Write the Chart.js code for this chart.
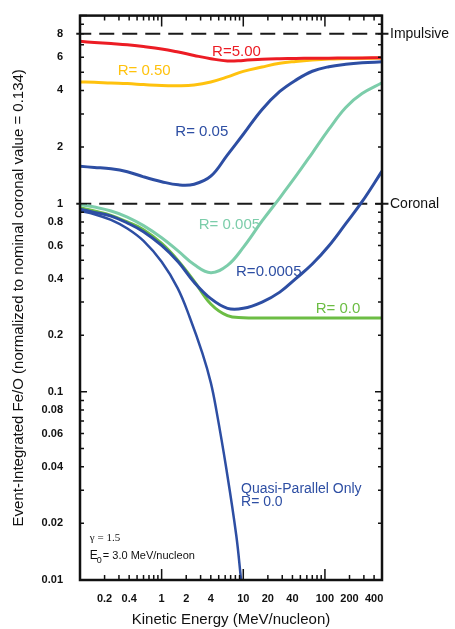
<!DOCTYPE html>
<html>
<head>
<meta charset="utf-8">
<script src="https://cdn.jsdelivr.net/npm/chart.js@4.4.1/dist/chart.umd.min.js"></script>
<style>
  html, body { margin: 0; padding: 0; background: #fff; }
  #wrap { width: 455px; height: 629px; position: relative; }
</style>
</head>
<body>
<div id="wrap"><canvas id="feoChart"></canvas></div>
<script>
// kinetic energy grid (MeV/nucleon) used by the model curves
const energy = [0.1, 0.15, 0.24, 0.38, 0.6, 1, 1.6, 2.5, 4, 6.4, 10, 17, 28, 44, 70, 112, 180, 285, 500];

// event-integrated Fe/O, normalized to coronal value 0.134
const feoR500 = [7.3, 7.2, 7.1, 7.0, 6.85, 6.65, 6.4, 6.14, 5.9, 5.74, 5.78, 5.86, 5.9, 5.92, 5.93, 5.94, 5.95, 5.96, 5.97];
const feoR050 = [4.44, 4.42, 4.38, 4.35, 4.3, 4.25, 4.24, 4.28, 4.44, 4.72, 5.05, 5.33, 5.58, 5.71, 5.81, 5.88, 5.91, 5.93, 5.95];
const feoR005 = [1.58, 1.56, 1.535, 1.48, 1.39, 1.31, 1.26, 1.27, 1.4, 1.82, 2.34, 3.17, 3.95, 4.54, 5.06, 5.35, 5.51, 5.61, 5.68];
const feoR0005 = [0.99, 0.96, 0.915, 0.85, 0.765, 0.66, 0.56, 0.475, 0.43, 0.47, 0.586, 0.81, 1.075, 1.4, 1.86, 2.49, 3.25, 3.85, 4.39];
const feoR00005 = [0.935, 0.9, 0.86, 0.79, 0.71, 0.6, 0.49, 0.383, 0.313, 0.278, 0.278, 0.3, 0.339, 0.4, 0.478, 0.598, 0.784, 1.025, 1.49];
const feoR0 = [0.952, 0.915, 0.868, 0.8, 0.728, 0.615, 0.497, 0.388, 0.293, 0.254, 0.248, 0.247, 0.247, 0.247, 0.247, 0.247, 0.247, 0.247, 0.247];

// quasi-parallel only, R = 0.0
const quasiEnergy = [0.1, 0.15, 0.24, 0.38, 0.6, 1, 1.57, 2.2, 3.16, 4, 4.7, 6.2, 8.2, 9.4];
const quasiFeO = [0.915, 0.88, 0.82, 0.738, 0.634, 0.491, 0.356, 0.25, 0.16, 0.112, 0.079, 0.039, 0.0173, 0.01];

// reference levels
const impulsiveLevel = 8;
const coronalLevel = 1;

// tick labels
const xTickLabels = [0.2, 0.4, 1, 2, 4, 10, 20, 40, 100, 200, 400];
const yTickLabels = [0.01, 0.02, 0.04, 0.06, 0.08, 0.1, 0.2, 0.4, 0.6, 0.8, 1, 2, 4, 6, 8];

const RED = "#ec1c24";
const GOLD = "#ffc20e";
const BLUE = "#2d4ea3";
const TEAL = "#7ccdaa";
const GREEN = "#6cbd44";
const FONT = "'Liberation Sans', Arial, sans-serif";

const pairs = (xs, ys) => xs.map((x, i) => ({ x: x, y: ys[i] }));

const curve = (label, xs, ys, color, width) => ({
  label: label,
  data: pairs(xs, ys),
  borderColor: color,
  borderWidth: width || 3,
  pointRadius: 0,
  showLine: true,
  tension: 0.4,
});

const level = (label, v) => ({
  label: label,
  data: [{ x: 0.09, y: v }, { x: 600, y: v }],
  borderColor: "#1a1a1a",
  borderWidth: 2,
  borderDash: [15, 8],
  pointRadius: 0,
  showLine: true,
  tension: 0,
  clip: { left: 6, right: 9, top: 0, bottom: 0 },
});

// text placed in data coordinates (energy, Fe/O)
const notes = [
  { text: "R=5.00", e: 4.15, v: 6.39, color: RED, size: 15 },
  { text: "R= 0.50", e: 0.29, v: 5.11, color: GOLD, size: 15 },
  { text: "R= 0.05", e: 1.47, v: 2.42, color: BLUE, size: 15 },
  { text: "R= 0.005", e: 2.85, v: 0.768, color: TEAL, size: 15 },
  { text: "R=0.0005", e: 8.15, v: 0.436, color: BLUE, size: 15 },
  { text: "R= 0.0", e: 77, v: 0.275, color: GREEN, size: 15 },
  { text: "Quasi-Parallel Only", e: 9.38, v: 0.0305, color: BLUE, size: 14 },
  { text: "R= 0.0", e: 9.38, v: 0.0259, color: BLUE, size: 14 },
];

const isDecade = (v) => Math.abs(Math.log10(v) - Math.round(Math.log10(v))) < 1e-6;

const minorValues = (lo, hi) => {
  const out = [];
  for (let d = Math.floor(Math.log10(lo)); d <= Math.ceil(Math.log10(hi)); d++) {
    for (let m = 1; m < 10; m++) {
      const v = m * Math.pow(10, d);
      if (v >= lo * 0.999 && v <= hi * 1.001) out.push(v);
    }
  }
  return out;
};

const framePlugin = {
  id: "frame",
  afterDatasetsDraw(chart) {
    const { ctx, chartArea: a, scales } = chart;
    const x = scales.x;
    const y = scales.y;
    ctx.save();
    ctx.strokeStyle = "#111";
    ctx.lineWidth = 1.5;
    ctx.beginPath();
    minorValues(0.1, 500).forEach((v) => {
      const px = x.getPixelForValue(v);
      const len = isDecade(v) ? 11 : 5;
      ctx.moveTo(px, a.bottom);
      ctx.lineTo(px, a.bottom - len);
      ctx.moveTo(px, a.top);
      ctx.lineTo(px, a.top + len);
    });
    minorValues(0.01, 10).forEach((v) => {
      const py = y.getPixelForValue(v);
      const len = isDecade(v) ? 7 : 4;
      ctx.moveTo(a.left, py);
      ctx.lineTo(a.left + len, py);
      ctx.moveTo(a.right, py);
      ctx.lineTo(a.right - len, py);
    });
    ctx.stroke();
    ctx.lineWidth = 2.5;
    ctx.strokeRect(a.left, a.top, a.right - a.left, a.bottom - a.top);

    ctx.textBaseline = "middle";
    ctx.textAlign = "left";
    notes.forEach((n) => {
      ctx.fillStyle = n.color;
      ctx.font = n.size + "px " + FONT;
      ctx.fillText(n.text, x.getPixelForValue(n.e), y.getPixelForValue(n.v));
    });

    ctx.fillStyle = "#111";
    ctx.font = "14px " + FONT;
    ctx.fillText("Impulsive", a.right + 8, y.getPixelForValue(impulsiveLevel));
    ctx.fillText("Coronal", a.right + 8, y.getPixelForValue(coronalLevel));

    // model parameters, lower left
    const gx = x.getPixelForValue(0.132);
    ctx.font = "11px 'Liberation Serif', 'Times New Roman', serif";
    ctx.fillText("\u03b3 = 1.5", gx, y.getPixelForValue(0.0168));
    const ey = y.getPixelForValue(0.0134);
    ctx.font = "12px " + FONT;
    ctx.fillText("E", gx, ey);
    const ew = ctx.measureText("E").width;
    ctx.font = "9px " + FONT;
    ctx.fillText("0", gx + ew - 1, ey + 4);
    ctx.font = "11px " + FONT;
    ctx.fillText("= 3.0 MeV/nucleon", gx + ew + 5, ey);
    ctx.restore();
  },
};

const ctx = document.getElementById("feoChart").getContext("2d");
const feoChart = new Chart(ctx, {
  type: "scatter",
  data: {
    datasets: [
      curve("R=5.00", energy, feoR500, RED),
      curve("R=0.50", energy, feoR050, GOLD),
      curve("R=0.05", energy, feoR005, BLUE),
      curve("R=0.005", energy, feoR0005, TEAL),
      curve("R=0.0005", energy, feoR00005, BLUE),
      curve("R=0.0", energy, feoR0, GREEN),
      curve("Quasi-Parallel Only R=0.0", quasiEnergy, quasiFeO, BLUE, 2.5),
      level("Impulsive", impulsiveLevel),
      level("Coronal", coronalLevel),
    ],
  },
  options: {
    responsive: true,
    maintainAspectRatio: false,
    animation: false,
    layout: { padding: { top: 12, right: 73, bottom: 0, left: 0 } },
    plugins: { legend: { display: false }, tooltip: { enabled: false } },
    scales: {
      x: {
        type: "logarithmic",
        min: 0.1,
        max: 500,
        grid: { display: false },
        border: { display: false },
        afterBuildTicks: (scale) => {
          scale.ticks = xTickLabels.map((v) => ({ value: v }));
        },
        afterFit: (scale) => {
          scale.height = 49;
        },
        ticks: {
          autoSkip: false,
          maxRotation: 0,
          padding: 4,
          color: "#111",
          font: { family: FONT, size: 11, weight: "bold" },
          callback: (v) => String(v),
        },
        title: {
          display: true,
          text: "Kinetic Energy (MeV/nucleon)",
          color: "#111",
          font: { family: FONT, size: 15 },
          padding: { top: 0, bottom: 0 },
        },
      },
      y: {
        type: "logarithmic",
        min: 0.01,
        max: 10,
        grid: { display: false },
        border: { display: false },
        afterBuildTicks: (scale) => {
          scale.ticks = yTickLabels.map((v) => ({ value: v }));
        },
        afterFit: (scale) => {
          scale.width = 80;
        },
        ticks: {
          autoSkip: false,
          padding: 9,
          color: "#111",
          font: { family: FONT, size: 11, weight: "bold" },
          callback: (v) => String(v),
        },
        title: {
          display: true,
          text: "Event-Integrated Fe/O (normalized to nominal coronal value = 0.134)",
          color: "#111",
          font: { family: FONT, size: 15 },
          padding: { top: 10, bottom: 0 },
        },
      },
    },
  },
  plugins: [framePlugin],
});
</script>
</body>
</html>
